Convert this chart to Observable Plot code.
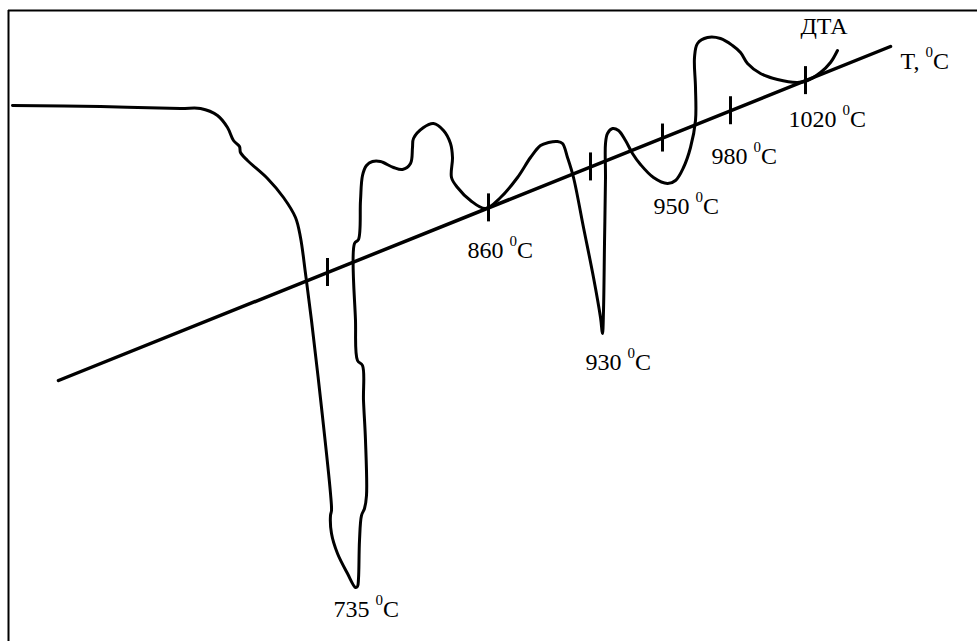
<!DOCTYPE html>
<html>
<head>
<meta charset="utf-8">
<script src="https://cdn.jsdelivr.net/npm/d3@7"></script>
<script src="https://cdn.jsdelivr.net/npm/@observablehq/plot@0.6"></script>
<style>
  html, body { margin: 0; padding: 0; background: #fff; }
</style>
</head>
<body>
<div id="chart"></div>
<script>
// DTA curve (x: position along chart, y: position from top)
const curveX = [12,100,180,200,217,227,233,239,240,247,267,283,295,300,305,311,321,330,331,330,331,337,347,355,357,358,359,361,364,366,365,363,362,357,355,354,358,360,362,366,372,380,393,402,410,412,413,423,433,443,450,452,451,457,470,485,500,517,530,540,548,557,562,567,573,583,593,600,602,603,604,605,605,607,612,618,625,632,640,653,667,675,683,690,695,695,694,697,707,720,732,740,747,760,777,797,807,820,830,837];
const curveY = [105,106,108,108,115,127,140,146,152,160,178,197,217,237,273,320,407,493,510,515,533,553,573,587,586,578,540,515,508,495,440,400,365,360,320,243,239,200,175,165,161,161,167,169,163,147,138,127,123,130,143,157,177,187,200,208,197,177,157,145,142,141,143,157,177,227,277,317,333,310,243,177,143,133,128,130,140,153,164,177,183,180,167,147,120,87,57,43,37,38,45,52,63,73,79,82,80,72,62,50];

// Temperature axis (straight line) and its tick marks
const baselineX = [58, 890];
const baselineY = [380, 46];
const tickX = [327, 488, 590, 662, 730, 805];

// Labels
const labelText = ["735 ⁰C", "860 ⁰C", "930 ⁰C", "950 ⁰C", "980 ⁰C", "1020 ⁰C", "T, ⁰C", "ДТА"];
const labelX = [333, 467, 585, 653, 711, 788, 900, 800];
const labelY = [616, 257, 369, 213, 163, 126, 68, 33];

const curve = curveX.map((x, i) => ({x, y: curveY[i]}));
const baseline = baselineX.map((x, i) => ({x, y: baselineY[i]}));
const lineAt = x => baselineY[0] + (baselineY[1] - baselineY[0]) * (x - baselineX[0]) / (baselineX[1] - baselineX[0]);
const ticks = tickX.map(x => ({x, y1: lineAt(x) - 14, y2: lineAt(x) + 14}));
const labels = labelText.map((t, i) => ({t, x: labelX[i], y: labelY[i]}));

const W = 977, H = 641;
const chart = Plot.plot({
  width: W, height: H,
  margin: 0,
  x: {domain: [0, W], range: [0, W], axis: null},
  y: {domain: [0, H], range: [0, H], axis: null},
  style: {background: "#fff"},
  marks: [
    Plot.ruleX([8], {y1: 10, y2: H, stroke: "#000", strokeWidth: 2}),
    Plot.ruleY([10], {x1: 8, x2: W, stroke: "#000", strokeWidth: 2}),
    Plot.line(baseline, {x: "x", y: "y", stroke: "#000", strokeWidth: 3.5}),
    Plot.ruleX(ticks, {x: "x", y1: "y1", y2: "y2", stroke: "#000", strokeWidth: 3}),
    Plot.line(curve, {x: "x", y: "y", stroke: "#000", strokeWidth: 3, curve: "catmull-rom", strokeLinejoin: "round", strokeLinecap: "round"}),
    Plot.text(labels, {x: "x", y: "y", text: "t", textAnchor: "start", lineAnchor: "bottom", fontFamily: "Liberation Serif", fontSize: 24, fill: "#000", className: "lbl"})
  ]
});
document.getElementById("chart").appendChild(chart);

// Render the degree "0" as a real superscript
d3.select(chart).selectAll(".lbl text").each(function() {
  const el = d3.select(this);
  const s = el.text();
  const k = s.indexOf("⁰");
  if (k < 0) return;
  el.text(null);
  el.append("tspan").text(s.slice(0, k));
  el.append("tspan").attr("font-size", 15).attr("dy", -12).text("0");
  el.append("tspan").attr("dy", 12).text(s.slice(k + 1));
});
</script>
</body>
</html>
